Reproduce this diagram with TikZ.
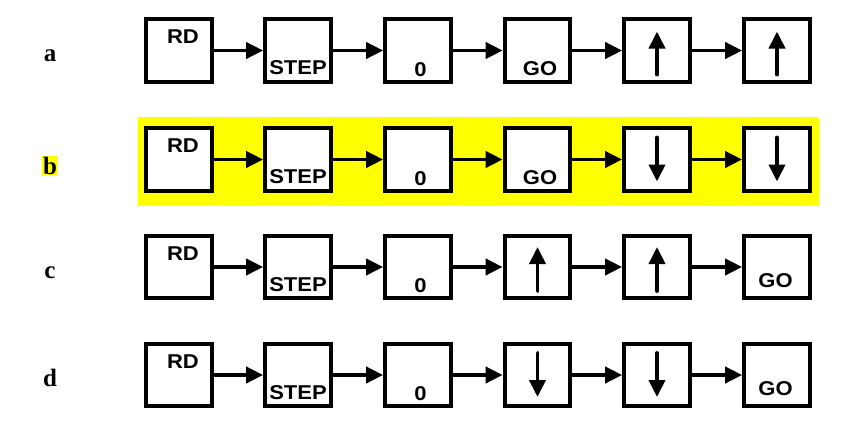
\documentclass[tikz,border=0pt]{standalone}
\usepackage{fontspec}
\setmainfont{Liberation Serif}
\newfontfamily\boxfont{Liberation Sans}[FakeStretch=1.1]
\usetikzlibrary{arrows.meta}
\definecolor{hilite}{RGB}{255,255,0}

\begin{document}
\begin{tikzpicture}[x=1pt, y=-1pt,
    box/.style={draw, line width=4.2pt, minimum width=65.5pt,
                minimum height=62.5pt, fill=white, inner sep=0pt},
    link/.style={-{Triangle[length=17pt,width=16pt]}, line width=3.8pt},
    vert/.style={-{Triangle[length=17pt,width=16pt]}, line width=3.8pt,
                 line cap=round},
    word/.style={font=\boxfont\bfseries\fontsize{20}{20}\selectfont,
                 inner sep=0pt},
    rowlbl/.style={font=\bfseries\fontsize{25}{25}\selectfont,
                   anchor=base, inner sep=1pt}
]
\useasboundingbox (0,0) rectangle (857,431);

% highlighted row
\fill[hilite] (138,117) rectangle (819,206);

% row labels
\node[rowlbl] (la) at (50,61.5) {a};
\node[rowlbl, fill=hilite] (lb) at (50,174) {b};
\node[rowlbl] (lc) at (50,278) {c};
\node[rowlbl] (ld) at (50,386) {d};

% row a
\node[box] (a1) at (179,50.5)   {};
\node[box] (a2) at (298,50.5)   {};
\node[box] (a3) at (418,50.5)   {};
\node[box] (a4) at (537.5,50.5) {};
\node[box] (a5) at (657,50.5)   {};
\node[box] (a6) at (777,50.5)   {};
\node[word] (a1t) at ([shift={(4,-13.5)}]a1.center)  {RD};
\node[word] (a2t) at ([shift={(0,17.5)}]a2.center)   {STEP};
\node[word] (a3t) at ([shift={(2.5,19)}]a3.center)   {0};
\node[word] (a4t) at ([shift={(2.5,18.5)}]a4.center) {GO};
\draw[vert] ([yshift=-24pt]a5.center) -- ([yshift=19pt]a5.center);
\draw[vert] ([yshift=-24pt]a6.center) -- ([yshift=19pt]a6.center);
\draw[link] (a1) -- (a2);
\draw[link] (a2) -- (a3);
\draw[link] (a3) -- (a4);
\draw[link] (a4) -- (a5);
\draw[link] (a5) -- (a6);

% row b
\node[box] (b1) at (179,159.5)   {};
\node[box] (b2) at (298,159.5)   {};
\node[box] (b3) at (418,159.5)   {};
\node[box] (b4) at (537.5,159.5) {};
\node[box] (b5) at (657,159.5)   {};
\node[box] (b6) at (777,159.5)   {};
\node[word] (b1t) at ([shift={(4,-13.5)}]b1.center)  {RD};
\node[word] (b2t) at ([shift={(0,17.5)}]b2.center)   {STEP};
\node[word] (b3t) at ([shift={(2.5,19)}]b3.center)   {0};
\node[word] (b4t) at ([shift={(2.5,18.5)}]b4.center) {GO};
\draw[vert] ([yshift=22pt]b5.center) -- ([yshift=-22pt]b5.center);
\draw[vert] ([yshift=22pt]b6.center) -- ([yshift=-22pt]b6.center);
\draw[link] (b1) -- (b2);
\draw[link] (b2) -- (b3);
\draw[link] (b3) -- (b4);
\draw[link] (b4) -- (b5);
\draw[link] (b5) -- (b6);

% row c
\node[box] (c1) at (179,267)   {};
\node[box] (c2) at (298,267)   {};
\node[box] (c3) at (418,267)   {};
\node[box] (c4) at (537.5,267) {};
\node[box] (c5) at (657,267)   {};
\node[box] (c6) at (777,267)   {};
\node[word] (c1t) at ([shift={(4,-13.5)}]c1.center)   {RD};
\node[word] (c2t) at ([shift={(0,17.5)}]c2.center)    {STEP};
\node[word] (c3t) at ([shift={(2.5,19)}]c3.center)    {0};
\node[word] (c6t) at ([shift={(-1.5,13.5)}]c6.center) {GO};
\draw[vert] ([yshift=-24pt]c4.center) -- ([yshift=20pt]c4.center);
\draw[vert] ([yshift=-24pt]c5.center) -- ([yshift=20pt]c5.center);
\draw[link] (c1) -- (c2);
\draw[link] (c2) -- (c3);
\draw[link] (c3) -- (c4);
\draw[link] (c4) -- (c5);
\draw[link] (c5) -- (c6);

% row d
\node[box] (d1) at (179,375)   {};
\node[box] (d2) at (298,375)   {};
\node[box] (d3) at (418,375)   {};
\node[box] (d4) at (537.5,375) {};
\node[box] (d5) at (657,375)   {};
\node[box] (d6) at (777,375)   {};
\node[word] (d1t) at ([shift={(4,-13.5)}]d1.center) {RD};
\node[word] (d2t) at ([shift={(0,17.5)}]d2.center)  {STEP};
\node[word] (d3t) at ([shift={(2.5,19)}]d3.center)  {0};
\node[word] (d6t) at ([shift={(-1.5,14)}]d6.center) {GO};
\draw[vert] ([yshift=22pt]d4.center) -- ([yshift=-22pt]d4.center);
\draw[vert] ([yshift=22pt]d5.center) -- ([yshift=-22pt]d5.center);
\draw[link] (d1) -- (d2);
\draw[link] (d2) -- (d3);
\draw[link] (d3) -- (d4);
\draw[link] (d4) -- (d5);
\draw[link] (d5) -- (d6);

\end{tikzpicture}
\end{document}
